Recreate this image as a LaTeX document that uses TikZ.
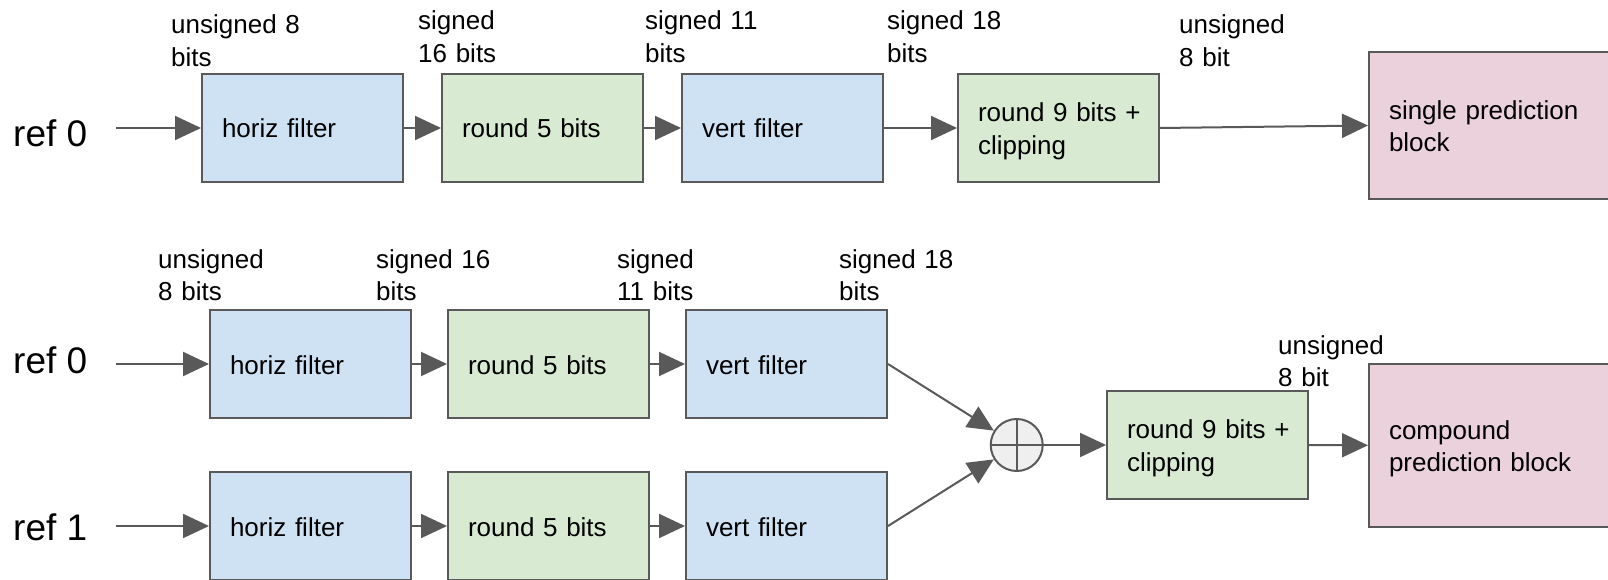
\documentclass[tikz,border=0pt]{standalone}
\usepackage{fontspec}
\setmainfont{Liberation Sans}
\usetikzlibrary{arrows.meta}

\definecolor{edgegray}{HTML}{595959}
\definecolor{filterfill}{HTML}{CFE2F3}
\definecolor{roundfill}{HTML}{D9EAD3}
\definecolor{outfill}{HTML}{EAD1DC}
\definecolor{sumfill}{HTML}{EFEFEF}

% fixed line box so that one- and two-line texts centre alike
\newcommand\linestrut{\rule[-6pt]{0pt}{32pt}}

\begin{document}
\begin{tikzpicture}[x=1pt,y=-1pt,
  blk/.style={draw=edgegray, line width=2pt, minimum height=108pt,
    text width=161pt, align=left, inner xsep=20pt, inner ysep=0pt,
    font=\fontsize{26}{32.5}\selectfont,
    execute at begin node=\linestrut, execute at end node=\linestrut},
  filt/.style={blk, fill=filterfill},
  rnd/.style={blk, fill=roundfill},
  outblk/.style={blk, fill=outfill, text width=203pt},
  lbl/.style={anchor=base west, inner sep=0pt, text width=150pt, align=left,
    font=\fontsize{26}{32.5}\selectfont},
  reflbl/.style={anchor=base west, inner sep=0pt,
    font=\fontsize{37}{42}\selectfont},
  arr/.style={draw=edgegray, line width=2pt, -{Triangle[length=26pt,width=24pt]}},
  sumnode/.style={circle, draw=edgegray, line width=2pt, fill=sumfill,
    minimum size=52pt, inner sep=0pt},
]
\useasboundingbox (0,0) rectangle (1608,580);
\clip (0,0) rectangle (1608,580);

% ---------- single prediction path ----------
\node[reflbl] (refA) at (13,146.5) {ref 0};
\coordinate (inA) at (116,128);
\node[filt] (hfA) at (302.5,128) {horiz filter};
\node[rnd]  (rdA) at (542.5,128) {round 5 bits};
\node[filt] (vfA) at (782.5,128) {vert filter};
\node[rnd]  (clA) at (1058.5,128) {\mbox{round 9 bits +}\\clipping};
\node[outblk, minimum height=147pt] (single) at (1490.5,125.5) {single prediction\\block};

\node[lbl] (tA1) at (171,34) {unsigned 8\\bits};
\node[lbl] (tA2) at (418,30) {signed\\16 bits};
\node[lbl] (tA3) at (645,30) {signed 11\\bits};
\node[lbl] (tA4) at (887,30) {signed 18\\bits};
\node[lbl] (tA5) at (1179,34) {unsigned\\8 bit};

\draw[arr] (inA) -- (hfA.west);
\draw[arr] (hfA) -- (rdA);
\draw[arr] (rdA) -- (vfA);
\draw[arr] (vfA) -- (clA);
\draw[arr] (clA.east) -- (single.west);

% ---------- compound prediction path ----------
\node[reflbl] (refB) at (13,373) {ref 0};
\node[reflbl] (refC) at (13,540) {ref 1};
\coordinate (inB) at (116,364);
\coordinate (inC) at (116,526);

\node[filt] (hfB) at (310.5,364) {horiz filter};
\node[rnd]  (rdB) at (548.5,364) {round 5 bits};
\node[filt] (vfB) at (786.5,364) {vert filter};

\node[filt] (hfC) at (310.5,526) {horiz filter};
\node[rnd]  (rdC) at (548.5,526) {round 5 bits};
\node[filt] (vfC) at (786.5,526) {vert filter};

\node[sumnode] (sum) at (1016.7,445) {};
\draw[edgegray, line width=2pt] (sum.north) -- (sum.south) (sum.west) -- (sum.east);

\node[rnd] (clB) at (1207.5,445) {\mbox{round 9 bits +}\\clipping};
\node[outblk, minimum height=163pt] (compound) at (1490.5,445.5) {compound\\prediction block};

\node[lbl] (tB1) at (158,268) {unsigned\\8 bits};
\node[lbl] (tB2) at (376,268) {signed 16\\bits};
\node[lbl] (tB3) at (617,268) {signed\\11 bits};
\node[lbl] (tB4) at (839,268) {signed 18\\bits};
\node[lbl] (tB5) at (1278,354) {unsigned\\8 bit};

\draw[arr] (inB) -- (hfB.west);
\draw[arr] (hfB) -- (rdB);
\draw[arr] (rdB) -- (vfB);
\draw[arr] (inC) -- (hfC.west);
\draw[arr] (hfC) -- (rdC);
\draw[arr] (rdC) -- (vfC);
\draw[arr] (vfB.east) -- (sum);
\draw[arr] (vfC.east) -- (sum);
\draw[arr] (sum) -- (clB);
\draw[arr] (clB) -- (compound);
\end{tikzpicture}
\end{document}
